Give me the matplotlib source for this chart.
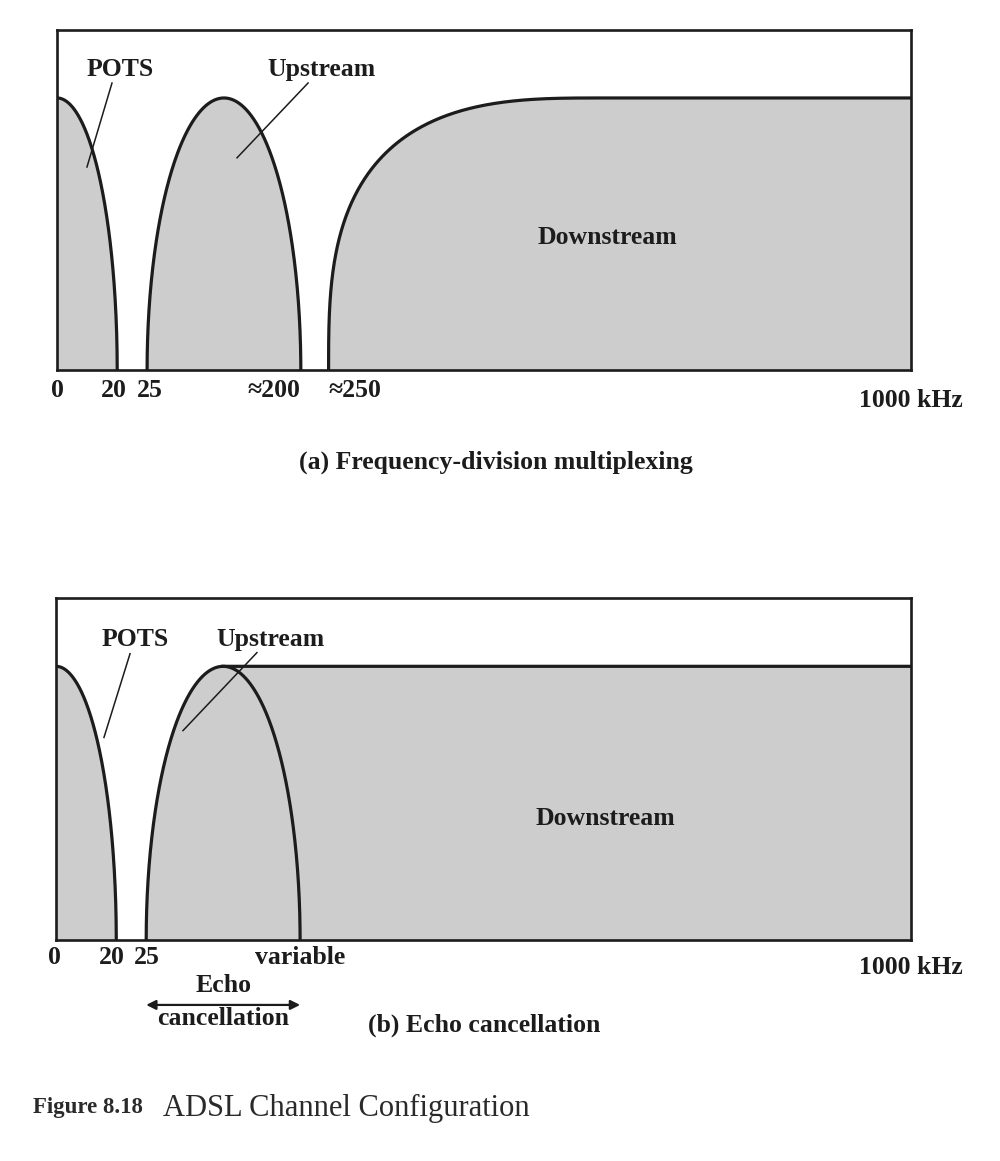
import matplotlib.pyplot as plt
import numpy as np

plt.rcParams["font.family"] = ["Liberation Serif", "DejaVu Serif"]

# band edges in kHz
pots_band = (0, 20)
fdm_upstream_band = (25, 200)
fdm_downstream_start = 250
echo_upstream_band = (25, 200)  # right edge is labelled "variable"
top_freq = 1000
peak_level = 1.0
downstream_rise_khz = 350  # width of the rounded shoulder of the downstream band

fdm_ticks = [0, 20, 25, 200, 250]
fdm_tick_labels = ["0", "20", "25", "\u2248200", "\u2248250"]
echo_ticks = [0, 20, 25, 200]
echo_tick_labels = ["0", "20", "25", "variable"]

# the drawing is not to scale: piecewise mapping of kHz onto the box width
khz_breaks = [0, 20, 25, 200, 250, 1000]
frac_breaks = [0, 0.0705, 0.1055, 0.2855, 0.318, 1.0]

FILL = "#cdcdcd"
INK = "#1c1c1c"
FS = 18.5


def fwd(x):
    return np.interp(x, khz_breaks, frac_breaks)


def inv(x):
    return np.interp(x, frac_breaks, khz_breaks)


def pots_shape(lo, hi, level, n=200):
    t = np.linspace(0, np.pi / 2, n)
    return lo + (hi - lo) * np.sin(t), level * np.cos(t)


def lobe_shape(lo, hi, level, n=400):
    t = np.linspace(0, np.pi, n)
    c, h = (lo + hi) / 2, (hi - lo) / 2
    return c - h * np.cos(t), level * np.sin(t)


def shoulder_shape(start, width, end, level, p=3.0, n=300):
    t = np.linspace(0, np.pi / 2, n)
    x = start + width * (1 - np.cos(t) ** (2 / p))
    y = level * np.sin(t) ** (2 / p)
    return np.append(x, end), np.append(y, level)


def setup_axes(ax):
    ax.set_xscale("function", functions=(fwd, inv))
    ax.set_xlim(0, top_freq)
    ax.set_ylim(0, 1.25)
    ax.set_xticks([])
    ax.set_yticks([])
    for s in ax.spines.values():
        s.set_linewidth(1.9)
        s.set_color(INK)


def draw_band(ax, x, y):
    ax.fill_between(x, 0, y, color=FILL, lw=0, zorder=1)
    ax.plot(x, y, color=INK, lw=2.3, zorder=3, solid_capstyle="butt")


def tick_texts(ax, ticks, labels, aligns, nudges, dy=-20):
    for xv, lab, ha, dx in zip(ticks, labels, aligns, nudges):
        ax.annotate(lab, xy=(xv, 0), xycoords=("data", "axes fraction"),
                    xytext=(dx, dy), textcoords="offset pixels",
                    ha=ha, va="center", fontsize=FS, fontweight="bold", color=INK)
    ax.annotate("1000 kHz", xy=(top_freq, 0), xycoords=("data", "axes fraction"),
                xytext=(0, dy - 10), textcoords="offset pixels",
                ha="center", va="center", fontsize=FS, fontweight="bold", color=INK)


def label_with_leader(ax, text, pos, start, end):
    ax.text(*pos, text, transform=ax.transAxes, ha="center", va="center",
            fontsize=FS, fontweight="bold", color=INK, zorder=5)
    ax.plot([start[0], end[0]], [start[1], end[1]], transform=ax.transAxes,
            color=INK, lw=1.1, zorder=4)


fig = plt.figure(figsize=(10, 11.61), dpi=100)
fig.patch.set_facecolor("white")

# (a) frequency-division multiplexing
ax_a = fig.add_axes([0.057, 0.6813, 0.854, 0.2929])
setup_axes(ax_a)
draw_band(ax_a, *pots_shape(*pots_band, peak_level))
draw_band(ax_a, *lobe_shape(*fdm_upstream_band, peak_level))
draw_band(ax_a, *shoulder_shape(fdm_downstream_start, downstream_rise_khz, top_freq, peak_level))
label_with_leader(ax_a, "POTS", (0.074, 0.885), (0.0644, 0.844), (0.0351, 0.597))
label_with_leader(ax_a, "Upstream", (0.310, 0.885), (0.294, 0.844), (0.2108, 0.624))
ax_a.text(0.644, 0.39, "Downstream", transform=ax_a.transAxes, ha="center",
          va="center", fontsize=FS, fontweight="bold", color=INK)
tick_texts(ax_a, fdm_ticks, fdm_tick_labels,
           ["center", "center", "center", "right", "left"], [0, -3, 3, 0, 0])
fig.text(0.496, 1 - 462 / 1161, "(a) Frequency-division multiplexing", ha="center",
         va="center", fontsize=FS, fontweight="bold", color=INK)

# (b) echo cancellation
ax_b = fig.add_axes([0.056, 0.1904, 0.855, 0.2946])
setup_axes(ax_b)
up_x, up_y = lobe_shape(*echo_upstream_band, peak_level)
peak_i = np.argmax(up_y)
down_x = np.append(up_x[:peak_i + 1], top_freq)
down_y = np.append(up_y[:peak_i + 1], peak_level)
ax_b.fill_between(down_x, 0, down_y, color=FILL, lw=0, zorder=1)
ax_b.plot(down_x[peak_i:], down_y[peak_i:], color=INK, lw=2.3, zorder=3)
ax_b.plot(up_x, up_y, color=INK, lw=2.3, zorder=3)
draw_band(ax_b, *pots_shape(*pots_band, peak_level))
label_with_leader(ax_b, "POTS", (0.0924, 0.878), (0.0866, 0.837), (0.0561, 0.592))
label_with_leader(ax_b, "Upstream", (0.251, 0.878), (0.235, 0.840), (0.1485, 0.612))
ax_b.text(0.643, 0.356, "Downstream", transform=ax_b.transAxes, ha="center",
          va="center", fontsize=FS, fontweight="bold", color=INK)
tick_texts(ax_b, echo_ticks, echo_tick_labels,
           ["center", "center", "center", "center"], [-2, -4, 1, 0], dy=-18)

echo_mid = sum(echo_upstream_band) / 2
ax_b.annotate("", xy=(echo_upstream_band[0], -0.19), xycoords=("data", "axes fraction"),
              xytext=(echo_upstream_band[1], -0.19), textcoords=("data", "axes fraction"),
              arrowprops=dict(arrowstyle="<|-|>", color=INK, lw=1.6,
                              mutation_scale=14, shrinkA=0, shrinkB=0))
ax_b.annotate("Echo", xy=(echo_mid, 0), xycoords=("data", "axes fraction"),
              xytext=(0, -46), textcoords="offset pixels", ha="center", va="center",
              fontsize=FS, fontweight="bold", color=INK)
ax_b.annotate("cancellation", xy=(echo_mid, 0), xycoords=("data", "axes fraction"),
              xytext=(0, -79), textcoords="offset pixels", ha="center", va="center",
              fontsize=FS, fontweight="bold", color=INK)
fig.text(0.484, 1 - 1025 / 1161, "(b) Echo cancellation", ha="center",
         va="center", fontsize=FS, fontweight="bold", color=INK)

# caption
fig.text(0.033, 1 - 1108 / 1161, "Figure 8.18", ha="left", va="center",
         fontsize=16.5, fontweight="bold", color="#2a2a2a")
fig.text(0.163, 1 - 1108 / 1161, "ADSL Channel Configuration", ha="left",
         va="center", fontsize=22, color="#2a2a2a")

fig.savefig("out.png", dpi=100)
